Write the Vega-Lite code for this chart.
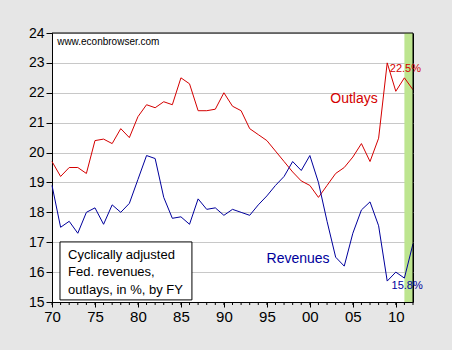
{
  "$schema": "https://vega.github.io/schema/vega-lite/v6.json",
  "width": 361,
  "height": 269,
  "autosize": {"type": "none"},
  "padding": {"left": 52, "top": 33, "right": 39, "bottom": 48},
  "background": "#e6e6e6",
  "view": {"fill": "white", "stroke": "black", "strokeWidth": 1},
  "config": {
    "view": {"fill": "white", "stroke": "black", "strokeWidth": 1},
    "font": "Liberation Sans",
    "axis": {"labelOverlap": false, "labelFlush": false, "labelBound": false},
    "axisY": {"labelOverlap": false, "tickCount": 10}
  },
  "datasets": {
    "series": [
      {"year": 1970, "outlays": 19.7, "revenues": 18.9},
      {"year": 1971, "outlays": 19.2, "revenues": 17.5},
      {"year": 1972, "outlays": 19.5, "revenues": 17.7},
      {"year": 1973, "outlays": 19.5, "revenues": 17.3},
      {"year": 1974, "outlays": 19.3, "revenues": 18.0},
      {"year": 1975, "outlays": 20.4, "revenues": 18.15},
      {"year": 1976, "outlays": 20.45, "revenues": 17.6},
      {"year": 1977, "outlays": 20.3, "revenues": 18.25},
      {"year": 1978, "outlays": 20.8, "revenues": 18.0},
      {"year": 1979, "outlays": 20.5, "revenues": 18.3},
      {"year": 1980, "outlays": 21.2, "revenues": 19.1},
      {"year": 1981, "outlays": 21.6, "revenues": 19.9},
      {"year": 1982, "outlays": 21.5, "revenues": 19.8},
      {"year": 1983, "outlays": 21.7, "revenues": 18.5},
      {"year": 1984, "outlays": 21.6, "revenues": 17.8},
      {"year": 1985, "outlays": 22.5, "revenues": 17.85},
      {"year": 1986, "outlays": 22.3, "revenues": 17.6},
      {"year": 1987, "outlays": 21.4, "revenues": 18.45},
      {"year": 1988, "outlays": 21.4, "revenues": 18.1},
      {"year": 1989, "outlays": 21.45, "revenues": 18.15},
      {"year": 1990, "outlays": 22.0, "revenues": 17.9},
      {"year": 1991, "outlays": 21.55, "revenues": 18.1},
      {"year": 1992, "outlays": 21.4, "revenues": 18.0},
      {"year": 1993, "outlays": 20.8, "revenues": 17.9},
      {"year": 1994, "outlays": 20.6, "revenues": 18.25},
      {"year": 1995, "outlays": 20.4, "revenues": 18.55},
      {"year": 1996, "outlays": 20.05, "revenues": 18.9},
      {"year": 1997, "outlays": 19.7, "revenues": 19.2},
      {"year": 1998, "outlays": 19.35, "revenues": 19.7},
      {"year": 1999, "outlays": 19.05, "revenues": 19.4},
      {"year": 2000, "outlays": 18.9, "revenues": 19.9},
      {"year": 2001, "outlays": 18.5, "revenues": 19.0},
      {"year": 2002, "outlays": 18.9, "revenues": 17.7},
      {"year": 2003, "outlays": 19.3, "revenues": 16.5},
      {"year": 2004, "outlays": 19.5, "revenues": 16.2},
      {"year": 2005, "outlays": 19.85, "revenues": 17.3},
      {"year": 2006, "outlays": 20.3, "revenues": 18.08},
      {"year": 2007, "outlays": 19.7, "revenues": 18.35},
      {"year": 2008, "outlays": 20.48, "revenues": 17.55},
      {"year": 2009, "outlays": 23.0, "revenues": 15.7},
      {"year": 2010, "outlays": 22.05, "revenues": 16.0},
      {"year": 2011, "outlays": 22.5, "revenues": 15.8},
      {"year": 2012, "outlays": 22.1, "revenues": 16.95}
    ]
  },
  "layer": [
    {
      "data": {"values": [{"start": 2011, "end": 2012}]},
      "mark": {"type": "rect", "color": "#bde58f"},
      "encoding": {
        "x": {
          "field": "start", "type": "quantitative",
          "scale": {"domain": [1970, 2012], "nice": false, "zero": false},
          "axis": {
            "title": null,
            "values": [1970, 1975, 1980, 1985, 1990, 1995, 2000, 2005, 2010],
            "labelExpr": "slice(toString(datum.value), 2)",
            "tickSize": 5,
            "tickColor": "black",
            "domainColor": "black",
            "grid": false,
            "labelFontSize": 15,
            "labelColor": "black",
            "labelPadding": 2,
            "labelFlush": false,
            "labelOverlap": false
          }
        },
        "x2": {"field": "end"}
      }
    },
    {
      "data": {"name": "series"},
      "mark": {"type": "line", "color": "#d40000", "strokeWidth": 1},
      "encoding": {
        "x": {"field": "year", "type": "quantitative"},
        "y": {
          "field": "outlays", "type": "quantitative",
          "scale": {"domain": [15, 24], "nice": false, "zero": false},
          "axis": {
            "title": null,
            "values": [15, 16, 17, 18, 19, 20, 21, 22, 23, 24],
            "tickCount": 10,
            "grid": true,
            "gridColor": "#c8c8c8",
            "tickSize": 6,
            "tickColor": "black",
            "domainColor": "black",
            "labelFontSize": 14,
            "labelColor": "black",
            "labelPadding": 2,
            "labelFlush": false,
            "labelOverlap": false
          }
        }
      }
    },
    {
      "data": {"name": "series"},
      "mark": {"type": "line", "color": "#00009c", "strokeWidth": 1},
      "encoding": {
        "x": {"field": "year", "type": "quantitative"},
        "y": {
          "field": "revenues", "type": "quantitative",
          "axis": {
            "title": null,
            "values": [15, 16, 17, 18, 19, 20, 21, 22, 23, 24],
            "tickCount": 10,
            "grid": true,
            "gridColor": "#c8c8c8",
            "tickSize": 6,
            "tickColor": "black",
            "domainColor": "black",
            "labelFontSize": 14,
            "labelColor": "black",
            "labelPadding": 2,
            "labelFlush": false,
            "labelOverlap": false
          }
        }
      }
    },
    {
      "data": {"name": "series"},
      "mark": {"type": "rule", "color": "black", "strokeWidth": 1},
      "encoding": {
        "x": {"field": "year", "type": "quantitative"},
        "y": {"datum": 15, "type": "quantitative"},
        "y2": {"datum": 14.9}
      }
    },
    {
      "data": {"values": [{}]},
      "mark": {"type": "rule", "color": "black", "strokeWidth": 1},
      "encoding": {"x": {"datum": 2012, "type": "quantitative"}}
    },
    {
      "data": {"values": [{}]},
      "mark": {"type": "rule", "color": "black", "strokeWidth": 1},
      "encoding": {"y": {"datum": 24, "type": "quantitative"}}
    },
    {
      "data": {"values": [{}]},
      "mark": {"type": "text", "text": "22.5%", "color": "#d40000", "fontSize": 11, "align": "left", "baseline": "middle"},
      "encoding": {"x": {"datum": 2009.3, "type": "quantitative"}, "y": {"datum": 22.8, "type": "quantitative"}}
    },
    {
      "data": {"values": [{}]},
      "mark": {"type": "text", "text": "15.8%", "color": "#00009c", "fontSize": 11, "align": "left", "baseline": "middle"},
      "encoding": {"x": {"datum": 2009.5, "type": "quantitative"}, "y": {"datum": 15.55, "type": "quantitative"}}
    },
    {
      "data": {"values": [{}]},
      "mark": {"type": "text", "text": "Outlays", "color": "#d40000", "fontSize": 14, "align": "right", "baseline": "middle"},
      "encoding": {"x": {"datum": 2007.9, "type": "quantitative"}, "y": {"datum": 21.79, "type": "quantitative"}}
    },
    {
      "data": {"values": [{}]},
      "mark": {"type": "text", "text": "Revenues", "color": "#00009c", "fontSize": 14, "align": "right", "baseline": "middle"},
      "encoding": {"x": {"datum": 2002.3, "type": "quantitative"}, "y": {"datum": 16.44, "type": "quantitative"}}
    },
    {
      "data": {"values": [{}]},
      "mark": {"type": "text", "text": "www.econbrowser.com", "color": "black", "fontSize": 10, "align": "left", "baseline": "middle"},
      "encoding": {"x": {"datum": 1970.6, "type": "quantitative"}, "y": {"datum": 23.7, "type": "quantitative"}}
    },
    {
      "data": {"values": [{}]},
      "mark": {"type": "rect", "fill": "white", "stroke": "black", "strokeWidth": 1},
      "encoding": {
        "x": {"datum": 1970.93, "type": "quantitative"},
        "x2": {"datum": 1986.28},
        "y": {"datum": 17.01, "type": "quantitative"},
        "y2": {"datum": 15.07}
      }
    },
    {
      "data": {"values": [{}]},
      "mark": {"type": "text", "text": ["Cyclically adjusted", "Fed. revenues,", "outlays, in %,  by FY"], "color": "black", "fontSize": 13, "lineHeight": 17.5, "align": "left", "baseline": "middle"},
      "encoding": {"x": {"datum": 1971.86, "type": "quantitative"}, "y": {"datum": 16.58, "type": "quantitative"}}
    }
  ]
}
